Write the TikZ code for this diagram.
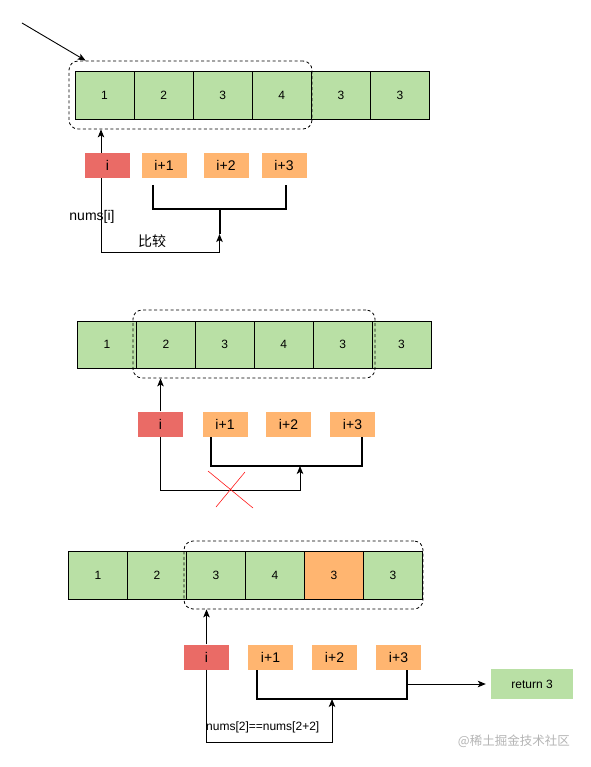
\documentclass[tikz,border=0pt]{standalone}
\usepackage{fontspec}
\setmainfont{Liberation Sans}
\newfontfamily\cjk{Noto Sans CJK SC}
\usetikzlibrary{arrows.meta,calc}
\definecolor{cgreen}{HTML}{B9E0A5}
\definecolor{cred}{HTML}{EA6B66}
\definecolor{corange}{HTML}{FFB570}
\definecolor{wmgray}{HTML}{B4B4B4}
\begin{document}
\begin{tikzpicture}[x=1pt,y=-1pt,
 cell/.style={draw, line width=0.9pt, fill=cgreen, minimum width=59pt, minimum height=48pt, inner sep=0pt, font=\fontsize{12}{13}\selectfont},
 idx/.style={fill=corange, minimum width=45pt, minimum height=25pt, inner sep=0pt, font=\fontsize{14}{16}\selectfont},
 ibox/.style={idx, fill=cred},
 win/.style={draw, dash pattern=on 3pt off 2.5pt, rounded corners=9pt, line width=0.8pt, inner sep=0pt, minimum height=68pt},
 arr/.style={line width=0.9pt, -{Stealth[length=8pt,width=6.5pt,inset=2pt]}},
 brk/.style={line width=2pt},
 lbl/.style={font=\fontsize{12}{14}\selectfont, inner sep=0pt},
 ]
\useasboundingbox (0,0) rectangle (590,767);

% ---------- row 1 ----------
\foreach \v [count=\k] in {1,2,3,4,3,3}
  \node[cell] (a\k) at ({104.5+59.1*(\k-1)},95) {\v};
\node[win, minimum width=243pt] (w1) at (190.5,95) {};
\coordinate (tl) at (22,23);
\draw[arr] (tl) -- ([xshift=17pt]w1.north west);

\node[ibox] (i1) at (107.5,165.5) {i};
\node[idx] (p1a) at (164,165.5) {i+1};
\node[idx] (p1b) at (226,165.5) {i+2};
\node[idx] (p1c) at (284,165.5) {i+3};

\coordinate (i1n) at ([xshift=-6.5pt]i1.north);
\coordinate (i1s) at ([xshift=-6.5pt]i1.south);
\draw[arr] (i1n) -- (i1n |- w1.south);
\draw[brk] (153,185) -- (153,209) -- (286,209) -- (286,185);
\coordinate (st1) at (219.5,234);
\draw[brk] (219.5,209) -- (st1);
\draw[arr] (i1s) -- (i1s |- 0,252) -- (219.5,252) -- (st1);
\node[font=\fontsize{14}{16}\selectfont, inner sep=0pt] (n1) at (92,217) {nums[i]};
\node[font=\fontsize{14}{16}\selectfont\cjk, inner sep=0pt] (c1) at (152,241) {比较};

% ---------- row 2 ----------
\foreach \v [count=\k] in {1,2,3,4,3,3}
  \node[cell, minimum height=47pt] (b\k) at ({107+58.9*(\k-1)},344.5) {\v};
\node[win, minimum width=242pt] (w2) at (254,344) {};

\node[ibox] (i2) at (160.5,424) {i};
\node[idx] (p2a) at (225,424) {i+1};
\node[idx] (p2b) at (288.5,424) {i+2};
\node[idx] (p2c) at (352.5,424) {i+3};

\draw[arr] (i2.north) -- (i2.north |- w2.south);
\draw[brk] (211,437) -- (211,466) -- (362,466) -- (362,437);
\coordinate (st2) at (300,466);
\draw[arr] (i2.south) -- (i2.south |- 0,490) -- (300,490) -- (st2);
\draw[red!90, line width=0.6pt] (208,471) -- (253,508) (245,472) -- (216,507);

% ---------- row 3 ----------
\foreach \v/\c [count=\k] in {1/cgreen,2/cgreen,3/cgreen,4/cgreen,3/corange,3/cgreen}
  \node[cell, fill=\c] (c\k) at ({98+59*(\k-1)},575) {\v};
\node[win, minimum width=239pt] (w3) at (303.5,575) {};

\node[ibox] (i3) at (206.5,657) {i};
\node[idx] (p3a) at (270.5,657) {i+1};
\node[idx] (p3b) at (334.5,657) {i+2};
\node[idx] (p3c) at (398.5,657) {i+3};

\draw[arr] (i3.north) -- (i3.north |- w3.south);
\draw[brk] (257,670) -- (257,699) -- (407,699) -- (407,670);
\coordinate (st3) at (332,699);
\draw[arr] (i3.south) -- (i3.south |- 0,742) -- (332,742) -- (st3);

\node[fill=cgreen, minimum width=82pt, minimum height=30pt, inner sep=0pt, font=\fontsize{12}{14}\selectfont] (ret) at (532,684) {return 3};
\coordinate (rs) at (407,684);
\draw[arr] (rs) -- ([xshift=-5pt]ret.west);

\node[lbl, anchor=west] (eq) at (206,727) {nums[2]==nums[2+2]};
\node[font=\fontsize{12.5}{14}\selectfont\cjk, text=wmgray, anchor=east, inner sep=0pt] (wm) at (570,741) {@稀土掘金技术社区};
\end{tikzpicture}
\end{document}
